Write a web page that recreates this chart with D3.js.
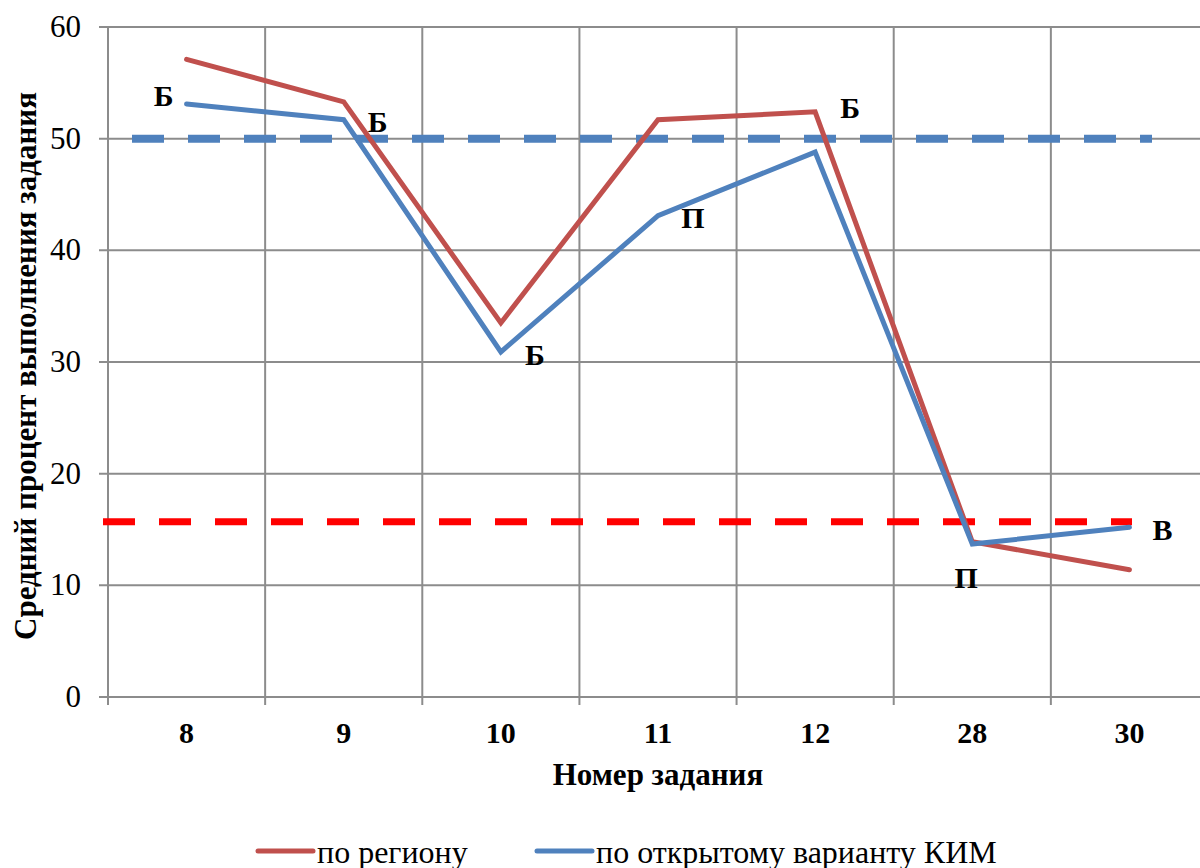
<!DOCTYPE html>
<meta charset="utf-8">
<style>
    body { margin: 0; background: #fff; }
    text { font-family: "Times New Roman", "Liberation Serif", Tinos, "DejaVu Serif", serif; }
</style>
<body>
<svg id="chart" width="1200" height="868"></svg>
</body>
<script src="https://d3js.org/d3.v7.min.js"></script>
<script>

    var tasks = ["8", "9", "10", "11", "12", "28", "30"];
    var region = [57.1, 53.3, 33.5, 51.7, 52.4, 13.9, 11.4];
    var openKim = [53.1, 51.7, 30.9, 43.1, 48.8, 13.7, 15.2];
    var levelLetters = ["Б", "Б", "Б", "П", "Б", "П", "В"];
    var basicLevel = 50;     // blue dashed threshold
    var highLevel = 15.7;    // red dashed threshold
    var yTicks = [0, 10, 20, 30, 40, 50, 60];

    var svg = d3.select("#chart");
    var plotLeft = 108, plotRight = 1208, plotTop = 27, plotBottom = 697;

    var x = d3.scaleBand().domain(tasks).range([plotLeft, plotRight]);
    var y = d3.scaleLinear().domain([0, 60]).range([plotBottom, plotTop]);
    var cx = function (t) { return x(t) + x.bandwidth() / 2; };

    // grid
    svg.append("g").selectAll("line")
        .data(yTicks)
        .enter().append("line")
        .attr("x1", plotLeft - 9).attr("x2", 1200)
        .attr("y1", function (d) { return y(d); })
        .attr("y2", function (d) { return y(d); })
        .attr("stroke", "#8c8c8c").attr("stroke-width", 2);

    svg.append("g").selectAll("line")
        .data(tasks)
        .enter().append("line")
        .attr("x1", function (d) { return x(d); }).attr("x2", function (d) { return x(d); })
        .attr("y1", plotTop).attr("y2", plotBottom + 8)
        .attr("stroke", "#8c8c8c").attr("stroke-width", 2);

    // y tick labels
    svg.append("g").selectAll("text")
        .data(yTicks)
        .enter().append("text")
        .attr("x", 81).attr("y", function (d) { return y(d) + 10; })
        .attr("text-anchor", "end")
        .attr("font-size", 31)
        .text(function (d) { return d; });

    // x tick labels
    svg.append("g").selectAll("text")
        .data(tasks)
        .enter().append("text")
        .attr("x", cx)
        .attr("y", 743)
        .attr("text-anchor", "middle")
        .attr("font-size", 30).attr("font-weight", "bold")
        .text(function (d) { return d; });

    // axis titles
    svg.append("text")
        .attr("x", cx("11")).attr("y", 785)
        .attr("text-anchor", "middle")
        .attr("font-size", 31).attr("font-weight", "bold")
        .text("Номер задания");

    svg.append("text")
        .attr("transform", "translate(36,366) rotate(-90)")
        .attr("text-anchor", "middle")
        .attr("font-size", 31).attr("font-weight", "bold")
        .text("Средний процент выполнения задания");

    // threshold lines
    svg.append("line")
        .attr("x1", 132).attr("x2", 1152)
        .attr("y1", y(basicLevel)).attr("y2", y(basicLevel))
        .attr("stroke", "#4f81bd").attr("stroke-width", 8)
        .attr("stroke-dasharray", "32,24");

    svg.append("line")
        .attr("x1", 103).attr("x2", 1132)
        .attr("y1", y(highLevel)).attr("y2", y(highLevel))
        .attr("stroke", "#ff0000").attr("stroke-width", 7)
        .attr("stroke-dasharray", "32,24");

    var line = d3.line()
        .x(function (d, i) { return cx(tasks[i]); })
        .y(function (d) { return y(d); });

    svg.append("path").datum(region)
        .attr("d", line)
        .attr("fill", "none").attr("stroke", "#c0504d")
        .attr("stroke-width", 5).attr("stroke-linecap", "round");

    svg.append("path").datum(openKim)
        .attr("d", line)
        .attr("fill", "none").attr("stroke", "#4f81bd")
        .attr("stroke-width", 5).attr("stroke-linecap", "round");

    // level letters near points
    var anchorSeries = [openKim, openKim, openKim, openKim, region, openKim, openKim];
    var offsets = [[-23, -8], [34, 2], [34, 3], [35, 2], [35, -4], [-6, 34], [33, 3]];
    svg.append("g").selectAll("text")
        .data(levelLetters)
        .enter().append("text")
        .attr("x", function (d, i) { return cx(tasks[i]) + offsets[i][0]; })
        .attr("y", function (d, i) { return y(anchorSeries[i][i]) + offsets[i][1] + 10; })
        .attr("text-anchor", "middle")
        .attr("font-size", 30).attr("font-weight", "bold")
        .text(function (d) { return d; });

    // legend
    var legend = [
        {name: "по региону", color: "#c0504d", x: 258},
        {name: "по открытому варианту КИМ", color: "#4f81bd", x: 537}
    ];
    var lg = svg.append("g").selectAll("g")
        .data(legend)
        .enter().append("g");
    lg.append("line")
        .attr("x1", function (d) { return d.x; })
        .attr("x2", function (d) { return d.x + 55; })
        .attr("y1", 851).attr("y2", 851)
        .attr("stroke", function (d) { return d.color; })
        .attr("stroke-width", 5).attr("stroke-linecap", "round");
    lg.append("text")
        .attr("x", function (d) { return d.x + 59; })
        .attr("y", 863)
        .attr("font-size", 32)
        .text(function (d) { return d.name; });

</script>
